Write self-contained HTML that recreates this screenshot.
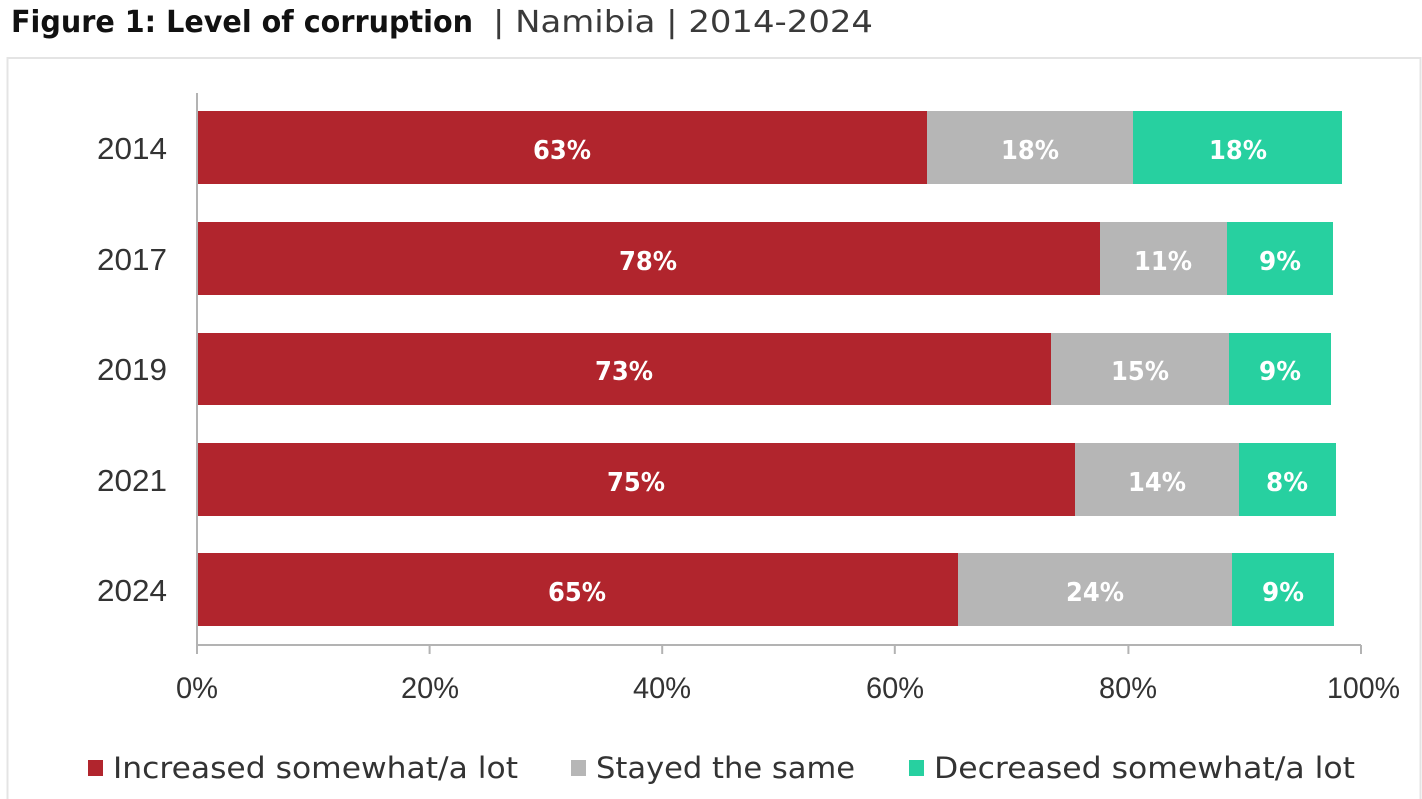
<!DOCTYPE html>
<html>
<head>
<meta charset="utf-8">
<style>
  html,body{margin:0;padding:0;background:#fff;}
  body{width:1422px;height:799px;overflow:hidden;}
  svg{display:block;}
  text{font-family:"DejaVu Sans","Liberation Sans",sans-serif;}
  .lib{font-family:"Liberation Sans","DejaVu Sans",sans-serif;}
</style>
</head>
<body>
<svg width="1422" height="799" viewBox="0 0 1422 799" xmlns="http://www.w3.org/2000/svg">
  <rect x="0" y="0" width="1422" height="799" fill="#ffffff"/>
  <!-- Title -->
  <text x="11" y="32" font-size="30" font-weight="bold" fill="#111" textLength="462" lengthAdjust="spacingAndGlyphs">Figure 1: Level of corruption</text>
  <text x="493" y="32" font-size="30" fill="#3a3a3a" textLength="380" lengthAdjust="spacingAndGlyphs">| Namibia | 2014-2024</text>

  <!-- Box -->
  <rect x="7.5" y="58" width="1413" height="760" fill="none" stroke="#e4e4e4" stroke-width="2"/>

  <!-- Bars -->
  <g>
    <rect x="197" y="111" width="730" height="73" fill="#B1252D"/>
    <rect x="927" y="111" width="206" height="73" fill="#B6B6B6"/>
    <rect x="1133" y="111" width="209" height="73" fill="#27D0A0"/>

    <rect x="197" y="222" width="903" height="73" fill="#B1252D"/>
    <rect x="1100" y="222" width="127" height="73" fill="#B6B6B6"/>
    <rect x="1227" y="222" width="106" height="73" fill="#27D0A0"/>

    <rect x="197" y="333" width="854" height="72" fill="#B1252D"/>
    <rect x="1051" y="333" width="178" height="72" fill="#B6B6B6"/>
    <rect x="1229" y="333" width="102" height="72" fill="#27D0A0"/>

    <rect x="197" y="443" width="878" height="73" fill="#B1252D"/>
    <rect x="1075" y="443" width="164" height="73" fill="#B6B6B6"/>
    <rect x="1239" y="443" width="97" height="73" fill="#27D0A0"/>

    <rect x="197" y="553" width="761" height="73" fill="#B1252D"/>
    <rect x="958" y="553" width="274" height="73" fill="#B6B6B6"/>
    <rect x="1232" y="553" width="102" height="73" fill="#27D0A0"/>
  </g>

  <!-- Axes -->
  <line x1="197" y1="93" x2="197" y2="654" stroke="#b3b3b3" stroke-width="2"/>
  <line x1="197" y1="645" x2="1361" y2="645" stroke="#b3b3b3" stroke-width="2"/>
  <g stroke="#b3b3b3" stroke-width="2">
    <line x1="429.6" y1="645" x2="429.6" y2="654"/>
    <line x1="662.2" y1="645" x2="662.2" y2="654"/>
    <line x1="894.8" y1="645" x2="894.8" y2="654"/>
    <line x1="1128.4" y1="645" x2="1128.4" y2="654"/>
    <line x1="1361" y1="645" x2="1361" y2="654"/>
  </g>

  <!-- Year labels -->
  <g class="lib" font-size="31" fill="#333" text-anchor="end">
    <text class="lib" x="167" y="159" textLength="70" lengthAdjust="spacingAndGlyphs">2014</text>
    <text class="lib" x="167" y="270" textLength="70" lengthAdjust="spacingAndGlyphs">2017</text>
    <text class="lib" x="167" y="380" textLength="70" lengthAdjust="spacingAndGlyphs">2019</text>
    <text class="lib" x="167" y="491" textLength="70" lengthAdjust="spacingAndGlyphs">2021</text>
    <text class="lib" x="167" y="601" textLength="70" lengthAdjust="spacingAndGlyphs">2024</text>
  </g>

  <!-- Tick labels -->
  <g font-size="30" fill="#333">
    <text class="lib" x="176" y="698" textLength="42" lengthAdjust="spacingAndGlyphs">0%</text>
    <text class="lib" x="401" y="698" textLength="58" lengthAdjust="spacingAndGlyphs">20%</text>
    <text class="lib" x="633" y="698" textLength="58" lengthAdjust="spacingAndGlyphs">40%</text>
    <text class="lib" x="866" y="698" textLength="58" lengthAdjust="spacingAndGlyphs">60%</text>
    <text class="lib" x="1099" y="698" textLength="58" lengthAdjust="spacingAndGlyphs">80%</text>
    <text class="lib" x="1327" y="698" textLength="73" lengthAdjust="spacingAndGlyphs">100%</text>
  </g>

  <!-- Data labels -->
  <g font-size="26" font-weight="bold" fill="#ffffff" text-anchor="middle">
    <text x="562" y="159" textLength="58" lengthAdjust="spacingAndGlyphs">63%</text>
    <text x="1030" y="159" textLength="58" lengthAdjust="spacingAndGlyphs">18%</text>
    <text x="1238" y="159" textLength="58" lengthAdjust="spacingAndGlyphs">18%</text>

    <text x="648" y="270" textLength="58" lengthAdjust="spacingAndGlyphs">78%</text>
    <text x="1163" y="270" textLength="58" lengthAdjust="spacingAndGlyphs">11%</text>
    <text x="1280" y="270" textLength="42" lengthAdjust="spacingAndGlyphs">9%</text>

    <text x="624" y="380" textLength="58" lengthAdjust="spacingAndGlyphs">73%</text>
    <text x="1140" y="380" textLength="58" lengthAdjust="spacingAndGlyphs">15%</text>
    <text x="1280" y="380" textLength="42" lengthAdjust="spacingAndGlyphs">9%</text>

    <text x="636" y="491" textLength="58" lengthAdjust="spacingAndGlyphs">75%</text>
    <text x="1157" y="491" textLength="58" lengthAdjust="spacingAndGlyphs">14%</text>
    <text x="1287" y="491" textLength="42" lengthAdjust="spacingAndGlyphs">8%</text>

    <text x="577" y="601" textLength="58" lengthAdjust="spacingAndGlyphs">65%</text>
    <text x="1095" y="601" textLength="58" lengthAdjust="spacingAndGlyphs">24%</text>
    <text x="1283" y="601" textLength="42" lengthAdjust="spacingAndGlyphs">9%</text>
  </g>

  <!-- Legend -->
  <rect x="88" y="760" width="15" height="16" fill="#B1252D"/>
  <text x="113" y="778" font-size="29" fill="#333" textLength="405" lengthAdjust="spacingAndGlyphs">Increased somewhat/a lot</text>
  <rect x="571" y="760" width="15" height="16" fill="#B6B6B6"/>
  <text x="596" y="778" font-size="29" fill="#333" textLength="259" lengthAdjust="spacingAndGlyphs">Stayed the same</text>
  <rect x="909" y="760" width="15" height="16" fill="#27D0A0"/>
  <text x="934" y="778" font-size="29" fill="#333" textLength="421" lengthAdjust="spacingAndGlyphs">Decreased somewhat/a lot</text>
</svg>
</body>
</html>
